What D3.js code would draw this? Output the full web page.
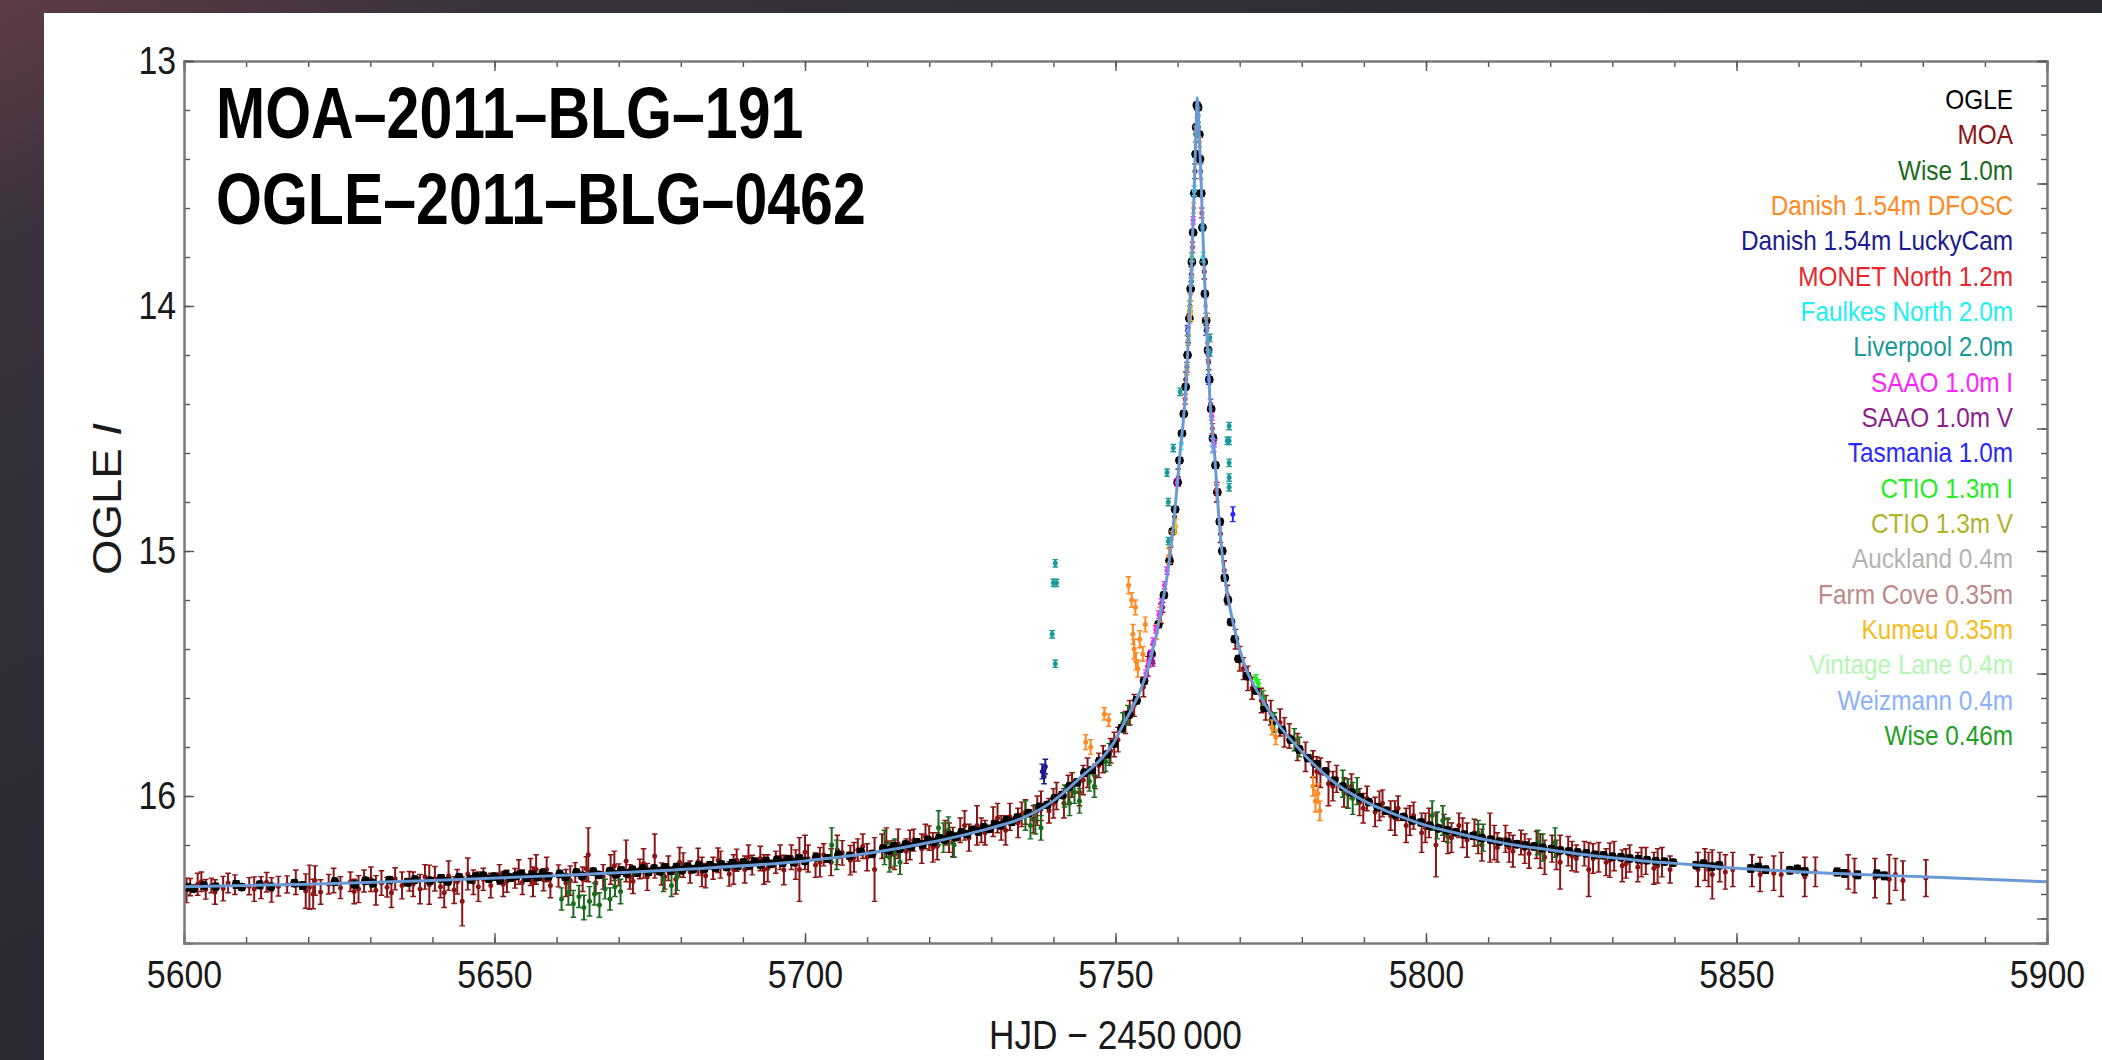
<!DOCTYPE html>
<html>
<head>
<meta charset="utf-8">
<script src="https://d3js.org/d3.v7.min.js"></script>
<style>
  body { margin: 0; background: #1f2228; overflow: hidden; }
  text { font-family: "Liberation Sans", Arial, Helvetica, sans-serif; }
</style>
</head>
<body>
<svg id="chart" width="2102" height="1060"></svg>
<script>
// ---- data ----
const xTicks = [5600, 5650, 5700, 5750, 5800, 5850, 5900]
const yTicks = [13, 14, 15, 16]
const titleLines = ['MOA\u20132011\u2013BLG\u2013191', 'OGLE\u20132011\u2013BLG\u20130462']

const legendNames = ['OGLE', 'MOA', 'Wise 1.0m', 'Danish 1.54m DFOSC', 'Danish 1.54m LuckyCam',
  'MONET North 1.2m', 'Faulkes North 2.0m', 'Liverpool 2.0m', 'SAAO 1.0m I', 'SAAO 1.0m V',
  'Tasmania 1.0m', 'CTIO 1.3m I', 'CTIO 1.3m V', 'Auckland 0.4m', 'Farm Cove 0.35m',
  'Kumeu 0.35m', 'Vintage Lane 0.4m', 'Weizmann 0.4m', 'Wise 0.46m']
const legendColors = ['#000000', '#8b1414', '#1b6b1f', '#ff8a24', '#1c1c8e',
  '#e8262c', '#22f0f0', '#1a9a9a', '#ff22ff', '#8c1f8c',
  '#2a2aff', '#22ee22', '#b2b22c', '#b4b4b4', '#bc8a8a',
  '#f7bc1c', '#b4f7b4', '#8cb2ff', '#22a025']

// model light curve [HJD-2450000, I mag]
const modelCurve = [
  [5600, 16.37], [5620, 16.36], [5640, 16.345], [5660, 16.325], [5680, 16.30], [5700, 16.265],
  [5710, 16.235], [5720, 16.19], [5730, 16.13], [5735, 16.09], [5740, 16.02], [5745, 15.91],
  [5748, 15.84], [5750, 15.77], [5751, 15.72], [5752.5, 15.65], [5754, 15.57], [5755.2, 15.48],
  [5756.5, 15.35], [5757.5, 15.22], [5758.5, 15.07], [5759.5, 14.85], [5760.4, 14.60],
  [5761.2, 14.38], [5761.8, 14.10], [5762.3, 13.80], [5762.7, 13.50], [5763.0, 13.25],
  [5763.15, 13.15], [5763.4, 13.25], [5763.8, 13.50], [5764.2, 13.80], [5764.7, 14.10],
  [5765.2, 14.38], [5766.0, 14.62], [5766.6, 14.85], [5767.4, 15.07], [5769, 15.30],
  [5771, 15.48], [5773, 15.58], [5776, 15.70], [5780, 15.82], [5785, 15.94], [5790, 16.02],
  [5795, 16.075], [5800, 16.12], [5805, 16.152], [5810, 16.18], [5815, 16.203], [5820, 16.22],
  [5825, 16.238], [5830, 16.252], [5835, 16.265], [5840, 16.275], [5845, 16.285], [5850, 16.295],
  [5855, 16.302], [5860, 16.309], [5865, 16.315], [5870, 16.32], [5875, 16.325], [5880, 16.33],
  [5890, 16.34], [5900, 16.35]
]

// [t, mag, err]
const ogle = [
  [5600.6,16.372,.012],[5601.5,16.378,.012],[5603.2,16.366,.013],[5605.1,16.370,.012],[5608.4,16.361,.014],
  [5609.3,16.372,.012],[5612.2,16.362,.013],[5614.0,16.370,.012],[5617.8,16.356,.012],[5619.1,16.366,.014],
  [5624.3,16.350,.013],[5627.5,16.361,.012],[5629.2,16.346,.012],[5630.4,16.356,.013],[5633.1,16.343,.012],
  [5636.0,16.352,.013],[5637.2,16.341,.012],[5639.6,16.346,.012],[5641.4,16.336,.014],[5642.5,16.348,.013],
  [5644.3,16.331,.012],[5646.1,16.340,.012],[5647.0,16.328,.012],
  [5648.2,16.325,.012],[5649.1,16.338,.012],[5650.0,16.329,.013],[5650.9,16.342,.012],[5651.8,16.320,.012],
  [5652.6,16.333,.013],[5653.5,16.326,.012],[5654.3,16.318,.012],[5655.2,16.334,.012],[5656.1,16.322,.013],
  [5657.0,16.331,.012],[5657.8,16.314,.012],[5658.7,16.328,.012],[5660.5,16.318,.013],[5661.4,16.331,.012],
  [5663.2,16.312,.012],[5664.1,16.326,.012],[5665.9,16.309,.013],[5666.8,16.322,.012],[5668.6,16.307,.012],
  [5669.5,16.320,.012],[5670.4,16.304,.013],[5671.3,16.316,.012],[5672.2,16.301,.012],[5673.0,16.313,.012],
  [5673.9,16.297,.013],[5674.8,16.310,.012],[5675.7,16.296,.012],[5676.6,16.307,.012],[5677.5,16.292,.013],
  [5678.4,16.306,.012],[5679.3,16.290,.012],[5680.2,16.303,.012],[5681.1,16.288,.013],[5682.0,16.299,.012],
  [5682.9,16.283,.012],[5683.8,16.296,.012],[5684.7,16.282,.013],[5685.6,16.292,.012],[5686.5,16.279,.012],
  [5687.4,16.290,.012],[5688.3,16.274,.013],[5689.2,16.286,.012],[5690.1,16.271,.012],[5691.0,16.283,.012],
  [5691.9,16.268,.013],[5692.8,16.280,.012],[5693.7,16.265,.012],[5694.6,16.277,.012],[5695.5,16.261,.013],
  [5696.4,16.273,.012],[5697.3,16.258,.012],[5698.2,16.270,.012],[5699.1,16.255,.013],[5700.0,16.266,.012],
  [5701.8,16.250,.012],[5703.6,16.255,.013],[5705.4,16.240,.012],[5707.2,16.244,.012],[5709.0,16.228,.013],
  [5710.8,16.236,.012],[5712.6,16.215,.012],[5713.5,16.222,.012],[5714.4,16.206,.013],[5715.3,16.216,.012],
  [5716.2,16.198,.012],[5717.1,16.207,.012],[5718.0,16.188,.013],[5718.9,16.198,.012],[5719.8,16.180,.012],
  [5720.7,16.188,.012],[5721.6,16.172,.013],[5722.5,16.178,.012],[5723.4,16.160,.012],[5724.3,16.168,.012],
  [5725.2,16.150,.013],[5726.1,16.156,.012],[5727.0,16.138,.012],[5727.9,16.145,.012],[5728.8,16.128,.013],
  [5729.7,16.134,.012],[5730.6,16.115,.012],[5731.5,16.120,.012],[5732.4,16.100,.013],[5733.3,16.106,.012],
  [5734.2,16.088,.012],[5736.0,16.070,.012],[5737.8,16.044,.012],[5739.0,16.036,.012],[5740.2,16.010,.012],
  [5741.4,15.996,.012],[5742.6,15.960,.012],[5743.8,15.944,.012],[5745.0,15.905,.012],[5746.2,15.894,.012],
  [5747.4,15.858,.012],[5748.6,15.830,.012],[5749.8,15.786,.012],[5751.0,15.722,.012],[5752.2,15.668,.012],
  [5753.4,15.610,.012],[5754.6,15.530,.012],[5755.8,15.420,.011],[5756.9,15.300,.011],[5757.8,15.180,.011],
  [5758.7,15.040,.010],[5759.6,14.830,.010],[5760.3,14.630,.010],[5761.0,14.440,.010],[5761.6,14.200,.010],
  [5762.1,13.930,.010],[5762.5,13.700,.010],[5762.9,13.380,.010],[5763.1,13.180,.010],[5763.3,13.190,.010],
  [5763.6,13.400,.010],[5764.0,13.680,.010],[5764.4,13.950,.010],[5764.9,14.180,.010],[5765.4,14.420,.010],
  [5766.1,14.650,.010],[5766.8,14.880,.010],[5767.6,15.110,.011],[5768.6,15.290,.011],[5769.8,15.440,.011],
  [5771.2,15.510,.011],[5772.6,15.570,.012],[5774.0,15.640,.012],[5775.4,15.690,.012],[5776.8,15.730,.012],
  [5778.2,15.770,.012],[5779.6,15.810,.012],[5781.0,15.845,.012],[5782.4,15.870,.012],[5783.8,15.900,.012],
  [5785.2,15.938,.012],[5786.6,15.962,.012],[5788.0,15.985,.012],[5789.4,16.006,.012],[5790.8,16.025,.012],
  [5792.2,16.045,.012],[5793.6,16.060,.012],[5795.0,16.075,.012],[5796.4,16.085,.012],[5797.8,16.100,.012],
  [5799.2,16.108,.012],[5800.6,16.122,.012],[5802.0,16.132,.012],[5803.4,16.140,.012],[5804.8,16.148,.012],
  [5806.2,16.158,.012],[5807.6,16.163,.012],[5809.0,16.172,.012],[5810.4,16.178,.012],[5811.8,16.186,.012],
  [5813.2,16.190,.012],[5814.6,16.197,.012],[5816.0,16.202,.012],[5817.4,16.206,.012],[5818.8,16.212,.012],
  [5820.2,16.216,.012],[5821.6,16.222,.012],[5823.0,16.226,.012],[5824.4,16.230,.012],[5825.8,16.234,.012],
  [5827.2,16.240,.012],[5828.6,16.242,.012],[5830.0,16.248,.012],[5831.4,16.250,.012],[5832.8,16.255,.012],
  [5834.2,16.258,.012],[5835.6,16.262,.012],[5837.0,16.266,.012],[5838.4,16.268,.012],[5839.8,16.272,.012],
  [5843.5,16.282,.013],[5844.7,16.276,.013],[5846.0,16.288,.013],[5847.2,16.283,.013],[5852.3,16.296,.013],
  [5853.5,16.290,.013],[5854.7,16.301,.013],[5858.6,16.303,.013],[5859.8,16.298,.013],[5861.0,16.308,.013],
  [5866.2,16.310,.014],[5867.4,16.316,.014],[5869.5,16.322,.014],[5872.6,16.318,.014],[5873.8,16.326,.014],
  // second pass near the peak
  [5759.2,14.920,.010],[5760.0,14.720,.010],[5760.7,14.520,.010],[5761.3,14.330,.010],[5761.9,14.050,.010],
  [5762.3,13.820,.010],[5762.7,13.540,.010],[5763.0,13.270,.010],[5763.5,13.300,.010],[5763.8,13.540,.010],
  [5764.2,13.820,.010],[5764.6,14.060,.010],[5765.1,14.300,.010],[5765.7,14.540,.010],[5766.4,14.760,.010],
  [5767.2,15.000,.011],[5768.1,15.200,.011],[5769.2,15.360,.011]
]

const moa = [
  [5601.0,16.372,.035],[5602.2,16.360,.045],[5603.5,16.381,.040],[5604.4,16.365,.030],[5606.3,16.378,.050],
  [5607.1,16.355,.040],[5610.5,16.368,.035],[5612.4,16.374,.045],[5613.3,16.352,.040],[5614.1,16.383,.050],
  [5616.6,16.361,.035],[5619.6,16.388,.070],[5620.2,16.372,.090],[5621.1,16.345,.060],[5622.0,16.392,.050],
  [5623.3,16.360,.040],[5625.2,16.374,.045],[5626.8,16.350,.040],[5628.1,16.380,.055],[5629.0,16.347,.045],
  [5630.9,16.385,.060],[5631.8,16.355,.050],[5632.7,16.372,.040],[5634.0,16.338,.045],[5635.1,16.365,.055],
  [5636.3,16.348,.040],[5638.0,16.380,.060],[5639.5,16.362,.080],[5640.4,16.338,.050],[5641.3,16.370,.045],
  [5642.6,16.325,.060],[5643.5,16.384,.055],[5644.8,16.430,.100],[5645.7,16.318,.065],[5646.6,16.352,.050],
  [5648.2,16.340,.045],[5649.4,16.365,.050],[5650.8,16.320,.040],[5652.0,16.348,.045],[5653.3,16.336,.040],
  [5654.5,16.352,.050],[5655.8,16.310,.055],[5656.7,16.300,.060],[5657.9,16.342,.045],[5659.0,16.365,.050],
  [5660.3,16.326,.045],[5661.5,16.355,.055],[5663.0,16.312,.040],[5664.2,16.340,.050],[5665.1,16.240,.110],
  [5666.3,16.355,.045],[5667.5,16.330,.050],[5668.7,16.300,.060],[5670.0,16.322,.045],[5671.2,16.265,.085],
  [5672.3,16.348,.050],[5673.4,16.298,.040],[5674.6,16.330,.055],[5675.8,16.245,.090],[5676.9,16.318,.045],
  [5678.0,16.295,.050],[5679.2,16.340,.060],[5680.4,16.282,.050],[5681.5,16.310,.045],[5682.8,16.268,.055],
  [5684.0,16.325,.050],[5685.2,16.295,.045],[5686.4,16.280,.055],[5687.8,16.318,.050],[5689.0,16.262,.045],
  [5690.3,16.300,.055],[5691.5,16.282,.040],[5692.8,16.255,.050],[5694.0,16.295,.055],[5695.3,16.270,.045],
  [5696.6,16.302,.060],[5697.8,16.250,.050],[5699.1,16.300,.130],[5700.5,16.255,.055],[5701.7,16.282,.050],
  [5703.0,16.240,.045],[5704.2,16.270,.055],[5706.0,16.232,.050],[5707.3,16.262,.060],[5708.5,16.220,.045],
  [5710.0,16.250,.055],[5711.2,16.300,.130],[5712.4,16.205,.050],[5713.8,16.238,.055],[5715.0,16.195,.060],
  [5716.3,16.225,.050],[5717.5,16.180,.045],[5718.8,16.215,.060],[5720.0,16.172,.050],[5721.3,16.205,.055],
  [5722.6,16.150,.050],[5723.8,16.188,.060],[5725.0,16.140,.050],[5726.4,16.170,.055],[5727.7,16.120,.080],
  [5729.0,16.150,.050],[5730.3,16.105,.060],[5731.6,16.130,.050],[5733.0,16.085,.055],[5734.3,16.110,.060],
  [5735.5,16.065,.050],[5736.8,16.095,.055],[5738.0,16.040,.060],[5739.3,16.060,.050],[5740.5,16.000,.055],
  [5741.7,16.030,.060],[5743.0,15.955,.050],[5744.2,15.985,.055],[5745.5,15.905,.060],[5746.7,15.920,.050],
  [5748.0,15.850,.055],[5749.2,15.815,.050],[5750.4,15.770,.050],[5751.6,15.700,.045],[5753.0,15.630,.045],
  [5754.5,15.555,.040],[5756.0,15.420,.040],[5757.3,15.255,.040],[5758.8,15.020,.035],[5760.1,14.700,.035],
  [5761.3,14.300,.030],[5762.2,13.870,.030],[5762.8,13.450,.030],[5763.2,13.200,.030],[5763.7,13.450,.030],
  [5764.3,13.860,.030],[5765.0,14.230,.030],[5765.8,14.560,.035],[5766.9,14.930,.035],[5768.0,15.180,.040],
  [5769.3,15.360,.040],[5770.6,15.480,.045],[5772.0,15.560,.045],[5773.5,15.610,.050],[5775.0,15.660,.050],
  [5776.5,15.700,.055],[5778.0,15.755,.050],[5779.3,15.800,.055],[5780.6,15.840,.060],[5781.8,15.870,.055],
  [5783.0,15.905,.060],[5784.3,15.950,.090],[5785.6,15.930,.055],[5786.8,15.985,.060],[5788.0,15.960,.050],
  [5789.3,16.025,.055],[5790.5,16.010,.050],[5791.8,16.065,.060],[5793.0,16.030,.055],[5794.3,16.080,.060],
  [5795.5,16.050,.050],[5796.8,16.120,.070],[5798.0,16.080,.055],[5799.3,16.150,.080],[5800.5,16.110,.060],
  [5801.6,16.200,.130],[5802.9,16.130,.055],[5804.1,16.170,.060],[5805.3,16.120,.050],[5806.6,16.180,.070],
  [5807.8,16.150,.055],[5809.0,16.200,.065],[5810.3,16.170,.100],[5811.5,16.210,.060],[5812.8,16.175,.055],
  [5814.0,16.225,.065],[5815.3,16.190,.050],[5816.6,16.235,.060],[5817.8,16.200,.055],[5819.1,16.250,.070],
  [5820.3,16.215,.055],[5821.6,16.270,.110],[5822.9,16.225,.060],[5824.2,16.255,.055],[5825.5,16.235,.050],
  [5826.2,16.300,.110],[5827.8,16.250,.060],[5829.0,16.270,.055],[5830.3,16.245,.060],[5831.6,16.285,.065],
  [5832.8,16.255,.055],[5834.1,16.290,.060],[5835.4,16.265,.055],[5836.7,16.295,.065],[5838.0,16.270,.060],
  [5839.3,16.300,.055],[5843.8,16.300,.070],[5844.9,16.280,.065],[5846.1,16.320,.100],[5847.3,16.290,.060],
  [5849.4,16.300,.070],[5852.5,16.305,.065],[5856.0,16.315,.070],[5857.2,16.320,.090],[5862.7,16.310,.060],
  [5869.0,16.325,.070],[5872.3,16.335,.080],[5874.6,16.340,.100],[5875.6,16.320,.065],[5880.5,16.335,.075],
  // denser clusters
  [5600.4,16.385,.05],[5602.8,16.350,.04],[5605.0,16.392,.05],[5608.2,16.362,.04],[5611.3,16.380,.05],
  [5615.2,16.368,.04],[5618.0,16.352,.05],[5620.8,16.400,.06],[5624.1,16.345,.05],[5627.4,16.390,.05],
  [5630.1,16.340,.05],[5633.4,16.395,.06],[5636.9,16.360,.05],[5638.8,16.330,.05],[5641.9,16.395,.06],
  [5644.0,16.350,.05],[5647.4,16.370,.06],[5651.4,16.360,.05],[5653.9,16.310,.05],[5656.2,16.350,.06],
  [5658.4,16.300,.05],[5662.2,16.345,.06],[5664.8,16.298,.05],[5669.3,16.285,.06],[5671.8,16.330,.05],
  [5674.0,16.275,.06],[5677.4,16.330,.05],[5679.8,16.270,.06],[5683.4,16.310,.06],[5686.0,16.262,.05],
  [5688.5,16.300,.06],[5690.9,16.250,.05],[5693.4,16.300,.06],[5696.0,16.250,.05],[5698.5,16.280,.06],
  [5700.0,16.230,.07],[5702.4,16.270,.06],[5705.2,16.220,.06],[5707.9,16.250,.06],[5709.3,16.205,.05],
  [5713.1,16.190,.06],[5714.4,16.240,.06],[5716.9,16.200,.06],[5719.4,16.165,.05],[5720.6,16.210,.06],
  [5723.2,16.170,.06],[5725.7,16.120,.06],[5728.4,16.140,.05],[5731.0,16.090,.06],[5732.3,16.140,.06],
  [5734.9,16.075,.05],[5737.4,16.060,.06],[5740.0,16.030,.06],[5742.4,15.975,.06],[5744.8,15.935,.06],
  [5747.3,15.875,.05],[5749.8,15.790,.05],[5752.3,15.660,.05],[5755.2,15.470,.04],[5759.5,14.860,.04],
  [5761.7,14.120,.03],[5764.7,14.060,.03],[5766.3,14.760,.04],[5767.5,15.080,.04],[5770.0,15.440,.05],
  [5771.3,15.520,.05],[5774.2,15.640,.05],[5777.2,15.740,.06],[5782.4,15.900,.06],[5785.0,15.960,.06],
  [5787.4,15.990,.06],[5789.9,16.050,.06],[5792.5,16.040,.06],[5795.0,16.090,.07],[5797.4,16.100,.06],
  [5799.9,16.130,.06],[5803.5,16.165,.07],[5805.9,16.150,.06],[5808.4,16.175,.06],[5811.0,16.190,.07],
  [5813.4,16.210,.06],[5815.9,16.215,.06],[5818.4,16.225,.07],[5821.0,16.240,.06],[5823.5,16.245,.06],
  [5826.9,16.255,.06],[5829.6,16.262,.07],[5832.2,16.275,.06],[5834.7,16.270,.06],[5837.3,16.285,.07],
  [5845.5,16.300,.07],[5848.2,16.310,.07],[5853.8,16.320,.07],[5861.0,16.330,.08],[5868.0,16.310,.07],
  [5876.8,16.345,.08]
]

const wise1 = [
  [5660.8,16.420,.045],[5661.9,16.395,.050],[5662.7,16.440,.055],[5663.6,16.410,.045],[5664.4,16.455,.050],
  [5665.3,16.430,.060],[5666.1,16.400,.045],[5666.9,16.445,.050],[5667.8,16.380,.040],[5668.6,16.420,.045],
  [5669.4,16.370,.040],[5670.3,16.390,.050],[5677.2,16.340,.050],[5678.5,16.365,.045],[5679.4,16.330,.055],
  [5704.3,16.200,.070],[5705.1,16.240,.060],[5712.8,16.210,.070],[5713.6,16.250,.060],[5714.5,16.230,.055],
  [5715.3,16.270,.050],[5721.5,16.130,.070],[5722.3,16.170,.060],[5723.1,16.140,.055],[5724.0,16.200,.050],
  [5735.5,16.080,.060],[5736.3,16.120,.055],[5737.1,16.095,.060],[5738.0,16.130,.050],[5741.8,16.000,.045],
  [5742.6,16.030,.050],[5743.4,15.985,.045],[5744.2,16.020,.050],[5745.8,15.940,.040],[5746.6,15.960,.045],
  [5748.4,15.860,.040],[5749.0,15.830,.045],[5751.2,15.700,.040],[5752.0,15.670,.040],[5775.6,15.700,.040],
  [5778.8,15.770,.045],[5779.6,15.800,.040],[5786.6,15.950,.055],[5787.4,15.990,.060],[5788.2,16.010,.065],
  [5788.9,15.980,.055],[5801.0,16.080,.060],[5801.8,16.120,.055],[5802.7,16.100,.060],[5803.5,16.140,.050],
  [5808.4,16.150,.050],[5809.2,16.170,.055],[5818.0,16.190,.050],[5818.8,16.210,.055],[5820.8,16.190,.060]
]

const dfosc = [
  [5745.2,15.780,.030],[5746.0,15.800,.030],[5748.2,15.665,.025],[5748.9,15.690,.025],[5752.1,15.140,.035],
  [5752.6,15.200,.030],[5753.2,15.230,.030],[5752.8,15.340,.040],[5753.0,15.400,.040],[5753.3,15.450,.035],
  [5753.6,15.480,.035],[5753.9,15.360,.035],[5754.4,15.420,.030],[5754.8,15.300,.030],[5756.6,15.330,.030],
  [5757.2,15.260,.030],[5758.6,15.020,.030],[5759.0,14.950,.030],[5762.6,13.600,.020],[5763.5,13.330,.020],
  [5764.6,14.050,.020],[5775.2,15.720,.030],[5775.8,15.760,.030],[5781.8,15.960,.040],[5782.2,16.020,.045],
  [5782.6,15.990,.040],[5782.9,16.060,.040]
]
const luckyCam = [[5738.2,15.900,.030],[5738.5,15.920,.030],[5738.7,15.880,.030],[5762.0,14.000,.020],[5764.6,14.100,.020]]
const monet = [[5761.2,14.380,.02],[5761.9,14.050,.02],[5762.4,13.760,.02],[5763.9,13.620,.02],[5764.9,14.200,.02],[5765.6,14.500,.02],[5766.3,14.750,.02]]
const faulkes = [[5762.7,13.530,.02],[5764.1,13.800,.02],[5760.6,14.560,.025]]
const liverpool = [
  [5740.3,15.050,.015],[5740.0,15.130,.015],[5740.5,15.130,.015],[5739.8,15.340,.015],[5740.3,15.460,.015],
  [5759.3,14.580,.015],[5758.3,14.680,.015],[5758.5,14.800,.015],[5758.5,14.960,.015],[5760.4,14.350,.015],
  [5765.2,14.130,.015],[5765.2,14.190,.015],[5768.3,14.490,.015],[5768.0,14.550,.015],[5768.3,14.550,.015],
  [5768.3,14.640,.015],[5768.3,14.700,.015],[5768.3,14.740,.015],[5762.2,13.900,.015],[5764.0,13.680,.015]
]
const saaoI = [
  [5754.9,15.500,.015],[5755.3,15.460,.015],[5755.7,15.420,.015],[5756.1,15.370,.015],[5756.5,15.320,.015],
  [5757.0,15.260,.015],[5757.4,15.210,.015],[5757.9,15.140,.015],[5758.3,15.080,.015],[5759.9,14.720,.015],
  [5762.5,13.650,.015],[5763.0,13.280,.015],[5765.5,14.450,.015],[5765.9,14.560,.015]
]
const saaoV = [[5756.0,15.45,.02],[5757.6,15.23,.02],[5761.5,14.25,.02],[5765.3,14.40,.02]]
const tasmania = [[5768.9,14.850,.030],[5761.6,14.100,.020],[5765.0,14.300,.020]]
const ctioI = [[5772.6,15.520,.015],[5773.0,15.540,.015],[5762.3,13.800,.015]]
const ctioV = [[5761.5,14.260,.02],[5761.7,14.140,.02],[5761.9,14.020,.02]]
const auckland = [[5762.3,13.850,.03],[5764.5,14.000,.03]]
const farmCove = [[5762.1,13.950,.03],[5764.8,14.150,.03]]
const kumeu = [[5762.0,13.980,.03],[5762.1,14.030,.03],[5759.7,14.900,.03]]
const vintageLane = [[5761.8,14.100,.03]]
const weizmann = [[5763.6,13.450,.03],[5765.6,14.570,.03]]
const wise046 = [[5762.9,13.300,.03],[5763.3,13.220,.03],[5773.8,15.600,.03]]

const seriesData = [ogle, moa, wise1, dfosc, luckyCam, monet, faulkes, liverpool, saaoI, saaoV,
  tasmania, ctioI, ctioV, auckland, farmCove, kumeu, vintageLane, weizmann, wise046]
// drawing order (index into legend): MOA and Wise under OGLE, the rest on top
const drawOrder = [1, 2, 0, 3, 4, 5, 6, 7, 8, 9, 10, 11, 12, 13, 14, 15, 16, 17, 18]

// ---- layout ----
const W = 2102, H = 1060
const margin = { left: 184, right: 2047, top: 61, bottom: 943 }
const svg = d3.select('#chart')

const defs = svg.append('defs')
const bg = defs.append('linearGradient').attr('id', 'bg')
  .attr('x1', 0).attr('y1', 0).attr('x2', 1).attr('y2', 1)
bg.append('stop').attr('offset', '0%').attr('stop-color', '#5e3c46')
bg.append('stop').attr('offset', '12%').attr('stop-color', '#38323c')
bg.append('stop').attr('offset', '60%').attr('stop-color', '#24272e')
bg.append('stop').attr('offset', '100%').attr('stop-color', '#1c1f25')
defs.append('clipPath').attr('id', 'plotClip').append('rect')
  .attr('x', margin.left).attr('y', margin.top)
  .attr('width', margin.right - margin.left).attr('height', margin.bottom - margin.top)

svg.append('rect').attr('width', W).attr('height', H).attr('fill', 'url(#bg)')
svg.append('rect').attr('x', 44).attr('y', 13).attr('width', W - 44).attr('height', H - 13).attr('fill', '#fff')

const x = d3.scaleLinear().domain([5600, 5900]).range([margin.left, margin.right])
const y = d3.scaleLinear().domain([13, 16.6]).range([margin.top, margin.bottom])

// ---- data points with error bars ----
const plot = svg.append('g').attr('clip-path', 'url(#plotClip)')
drawOrder.forEach(i => {
  const col = legendColors[i]
  const isOgle = i === 0
  const g = plot.append('g').attr('stroke', col).attr('fill', col)
  const pts = g.selectAll('g').data(seriesData[i]).enter().append('g')
  pts.append('line')
    .attr('x1', d => x(d[0])).attr('x2', d => x(d[0]))
    .attr('y1', d => y(d[1] - d[2])).attr('y2', d => y(d[1] + d[2]))
    .attr('stroke-width', isOgle ? 3.4 : 2)
  pts.append('path')
    .attr('d', d => {
      const cx = x(d[0]), c = isOgle ? 3.4 : 2.8
      return `M${cx - c},${y(d[1] - d[2])}H${cx + c}M${cx - c},${y(d[1] + d[2])}H${cx + c}`
    })
    .attr('stroke-width', isOgle ? 2 : 1.4)
  pts.append('circle')
    .attr('cx', d => x(d[0])).attr('cy', d => y(d[1]))
    .attr('r', isOgle ? 4.4 : 2.5).attr('stroke', 'none')
})

// ---- model curve ----
const line = d3.line().x(d => x(d[0])).y(d => y(d[1])).curve(d3.curveMonotoneX)
plot.append('path').datum(modelCurve)
  .attr('d', line).attr('fill', 'none')
  .attr('stroke', '#6a9ad6').attr('stroke-width', 3)

// ---- axes ----
const axisColor = '#7a7a7a'
const minorX = d3.range(5600, 5901, 10)
const minorYLeft = d3.range(13, 16.61, 0.2)
const minorYRight = d3.range(13, 16.61, 0.1)
const majorYRight = d3.range(13, 16.51, 0.5)

function styleAxis(g) {
  g.select('.domain').attr('stroke', axisColor).attr('stroke-width', 2)
  g.selectAll('.tick line').attr('stroke', '#555').attr('stroke-width', 1.4)
  g.selectAll('.tick text').attr('font-size', 39).attr('fill', '#1a1a1a')
    .attr('font-family', '"Liberation Sans", Arial, sans-serif')
    .attr('transform', 'scale(0.87,1)')
}

svg.append('g').attr('transform', `translate(0,${margin.bottom})`)
  .call(d3.axisBottom(x).tickValues(minorX).tickSize(-6).tickFormat(''))
  .call(styleAxis)
svg.append('g').attr('transform', `translate(0,${margin.bottom})`)
  .call(d3.axisBottom(x).tickValues(xTicks).tickSize(-10).tickPadding(17).tickFormat(d3.format('d')))
  .call(styleAxis)
svg.append('g').attr('transform', `translate(0,${margin.top})`)
  .call(d3.axisTop(x).tickValues(minorX).tickSize(-6).tickFormat(''))
  .call(styleAxis)
svg.append('g').attr('transform', `translate(0,${margin.top})`)
  .call(d3.axisTop(x).tickValues(xTicks).tickSize(-10).tickFormat(''))
  .call(styleAxis)
svg.append('g').attr('transform', `translate(${margin.left},0)`)
  .call(d3.axisLeft(y).tickValues(minorYLeft).tickSize(-6).tickFormat(''))
  .call(styleAxis)
svg.append('g').attr('transform', `translate(${margin.left},0)`)
  .call(d3.axisLeft(y).tickValues(yTicks).tickSize(-10).tickPadding(9).tickFormat(d3.format('d')))
  .call(styleAxis)
svg.append('g').attr('transform', `translate(${margin.right},0)`)
  .call(d3.axisRight(y).tickValues(minorYRight).tickSize(-6).tickFormat(''))
  .call(styleAxis)
svg.append('g').attr('transform', `translate(${margin.right},0)`)
  .call(d3.axisRight(y).tickValues(majorYRight).tickSize(-10).tickFormat(''))
  .call(styleAxis)

// ---- axis labels ----
svg.append('text')
  .attr('transform', `translate(${(margin.left + margin.right) / 2},1049) scale(0.86,1)`)
  .attr('text-anchor', 'middle').attr('font-size', 41).attr('fill', '#1a1a1a')
  .text('HJD \u2212 2450\u2009000')

const yl = svg.append('text')
  .attr('transform', 'translate(121,499) rotate(-90) scale(1.14,1)')
  .attr('text-anchor', 'middle').attr('font-size', 40).attr('fill', '#1a1a1a')
yl.append('tspan').text('OGLE ')
yl.append('tspan').attr('font-style', 'italic').text('I')

// ---- title ----
titleLines.forEach((t, i) => {
  svg.append('text')
    .attr('transform', `translate(216,${138 + i * 86}) scale(0.82,1)`)
    .attr('font-size', 72).attr('font-weight', 'bold').attr('fill', '#000')
    .text(t)
})

// ---- legend ----
const legend = svg.append('g')
legendNames.forEach((name, i) => {
  legend.append('text')
    .attr('transform', `translate(2013,${109 + i * 35.33}) scale(0.87,1)`)
    .attr('text-anchor', 'end').attr('font-size', 28).attr('fill', legendColors[i])
    .text(name)
})
</script>
</body>
</html>
